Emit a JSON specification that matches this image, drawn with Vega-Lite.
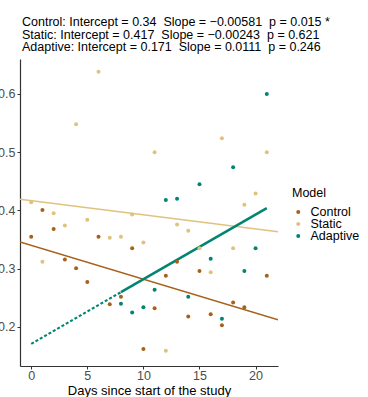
{
  "$schema": "https://vega.github.io/schema/vega-lite/v6.json",
  "autosize": {"type": "none"},
  "width": 258,
  "height": 307,
  "padding": {"left": 20, "top": 59, "right": 90, "bottom": 31},
  "background": "white",
  "title": {
    "text": [
      "Control: Intercept = 0.34 \u00a0Slope = −0.00581 \u00a0p = 0.015 *",
      "Static: Intercept = 0.417 \u00a0Slope = −0.00243 \u00a0p = 0.621",
      "Adaptive: Intercept = 0.171 \u00a0Slope = 0.0111 \u00a0p = 0.246"
    ],
    "anchor": "start",
    "frame": "group",
    "dx": 2,
    "offset": 5,
    "font": "Liberation Sans",
    "fontSize": 12.5,
    "fontWeight": "normal",
    "lineHeight": 12.7,
    "color": "black"
  },
  "datasets": {
    "pts": [
      {"Model": "Control", "day": 0, "value": 0.355},
      {"Model": "Control", "day": 1, "value": 0.401},
      {"Model": "Control", "day": 2, "value": 0.368},
      {"Model": "Control", "day": 3, "value": 0.316},
      {"Model": "Control", "day": 4, "value": 0.301},
      {"Model": "Control", "day": 5, "value": 0.277},
      {"Model": "Control", "day": 6, "value": 0.355},
      {"Model": "Control", "day": 7, "value": 0.239},
      {"Model": "Control", "day": 8, "value": 0.252},
      {"Model": "Control", "day": 9, "value": 0.335},
      {"Model": "Control", "day": 10, "value": 0.162},
      {"Model": "Control", "day": 11, "value": 0.232},
      {"Model": "Control", "day": 12, "value": 0.288},
      {"Model": "Control", "day": 13, "value": 0.312},
      {"Model": "Control", "day": 14, "value": 0.218},
      {"Model": "Control", "day": 15, "value": 0.296},
      {"Model": "Control", "day": 16, "value": 0.222},
      {"Model": "Control", "day": 17, "value": 0.203},
      {"Model": "Control", "day": 18, "value": 0.242},
      {"Model": "Control", "day": 19, "value": 0.234},
      {"Model": "Control", "day": 21, "value": 0.288},
      {"Model": "Static", "day": 0, "value": 0.414},
      {"Model": "Static", "day": 1, "value": 0.312},
      {"Model": "Static", "day": 2, "value": 0.395},
      {"Model": "Static", "day": 3, "value": 0.374},
      {"Model": "Static", "day": 4, "value": 0.548},
      {"Model": "Static", "day": 5, "value": 0.384},
      {"Model": "Static", "day": 6, "value": 0.638},
      {"Model": "Static", "day": 7, "value": 0.353},
      {"Model": "Static", "day": 8, "value": 0.355},
      {"Model": "Static", "day": 9, "value": 0.393},
      {"Model": "Static", "day": 10, "value": 0.345},
      {"Model": "Static", "day": 11, "value": 0.5},
      {"Model": "Static", "day": 12, "value": 0.159},
      {"Model": "Static", "day": 13, "value": 0.376},
      {"Model": "Static", "day": 14, "value": 0.365},
      {"Model": "Static", "day": 15, "value": 0.335},
      {"Model": "Static", "day": 16, "value": 0.294},
      {"Model": "Static", "day": 17, "value": 0.524},
      {"Model": "Static", "day": 18, "value": 0.335},
      {"Model": "Static", "day": 19, "value": 0.41},
      {"Model": "Static", "day": 20, "value": 0.429},
      {"Model": "Static", "day": 21, "value": 0.5},
      {"Model": "Adaptive", "day": 8, "value": 0.24},
      {"Model": "Adaptive", "day": 9, "value": 0.225},
      {"Model": "Adaptive", "day": 10, "value": 0.234},
      {"Model": "Adaptive", "day": 11, "value": 0.264},
      {"Model": "Adaptive", "day": 12, "value": 0.418},
      {"Model": "Adaptive", "day": 13, "value": 0.42},
      {"Model": "Adaptive", "day": 14, "value": 0.252},
      {"Model": "Adaptive", "day": 15, "value": 0.445},
      {"Model": "Adaptive", "day": 16, "value": 0.317},
      {"Model": "Adaptive", "day": 17, "value": 0.214},
      {"Model": "Adaptive", "day": 18, "value": 0.474},
      {"Model": "Adaptive", "day": 19, "value": 0.296},
      {"Model": "Adaptive", "day": 20, "value": 0.335},
      {"Model": "Adaptive", "day": 21, "value": 0.6}
    ],
    "fits": [
      {"Model": "Control", "seg": "solid", "day": -1, "value": 0.3458},
      {"Model": "Control", "seg": "solid", "day": 22, "value": 0.2122},
      {"Model": "Static", "seg": "solid", "day": -1, "value": 0.4194},
      {"Model": "Static", "seg": "solid", "day": 22, "value": 0.3635},
      {"Model": "Adaptive", "seg": "dashed", "day": 0, "value": 0.171},
      {"Model": "Adaptive", "seg": "dashed", "day": 8, "value": 0.2598},
      {"Model": "Adaptive", "seg": "solid", "day": 8, "value": 0.2598},
      {"Model": "Adaptive", "seg": "solid", "day": 21, "value": 0.4041}
    ]
  },
  "encoding": {
    "x": {
      "field": "day", "type": "quantitative",
      "scale": {"domain": [-1, 22], "nice": false, "zero": false},
      "axis": {"values": [0, 5, 10, 15, 20], "title": "Days since start of the study", "labelPadding": 0, "titlePadding": 3}
    },
    "y": {
      "field": "value", "type": "quantitative",
      "scale": {"domain": [0.133, 0.66], "nice": false, "zero": false},
      "axis": {"values": [0.2, 0.3, 0.4, 0.5, 0.6], "title": null, "format": ".1f"}
    },
    "color": {
      "field": "Model", "type": "nominal",
      "scale": {"domain": ["Control", "Static", "Adaptive"], "range": ["#a6611a", "#dfc27d", "#018571"]},
      "legend": {
        "orient": "none", "legendX": 272, "legendY": 128,
        "title": "Model", "symbolType": "circle", "symbolSize": 16,
        "symbolStrokeWidth": 0, "rowPadding": -2, "clipHeight": 11, "labelOffset": 6, "titlePadding": 7
      }
    }
  },
  "layer": [
    {
      "data": {"name": "fits"},
      "transform": [{"filter": "datum.Model !== 'Adaptive'"}],
      "mark": {"type": "line", "strokeWidth": 1.5, "clip": true},
      "encoding": {"detail": {"field": "Model"}}
    },
    {
      "data": {"name": "fits"},
      "transform": [{"filter": "datum.Model === 'Adaptive' && datum.seg === 'solid'"}],
      "mark": {"type": "line", "strokeWidth": 2.5}
    },
    {
      "data": {"name": "fits"},
      "transform": [{"filter": "datum.Model === 'Adaptive' && datum.seg === 'dashed'"}],
      "mark": {"type": "line", "strokeWidth": 2.2, "strokeDash": [3, 2]}
    },
    {
      "data": {"name": "pts"},
      "mark": {"type": "circle", "size": 16, "opacity": 1}
    }
  ],
  "config": {
    "font": "Liberation Sans",
    "view": {"stroke": null},
    "axis": {
      "grid": false,
      "domainColor": "#333333",
      "domainWidth": 1.2,
      "tickColor": "#333333",
      "tickSize": 3,
      "labelFont": "Liberation Sans",
      "labelFontSize": 12.5,
      "labelColor": "#4d4d4d",
      "labelPadding": 2,
      "titleFont": "Liberation Sans",
      "titleFontSize": 13,
      "titleFontWeight": "normal",
      "titleColor": "black"
    },
    "legend": {
      "titleFont": "Liberation Sans",
      "titleFontSize": 12.5,
      "titleFontWeight": "normal",
      "titleColor": "black",
      "labelFont": "Liberation Sans",
      "labelFontSize": 12.5,
      "labelColor": "black"
    }
  }
}
